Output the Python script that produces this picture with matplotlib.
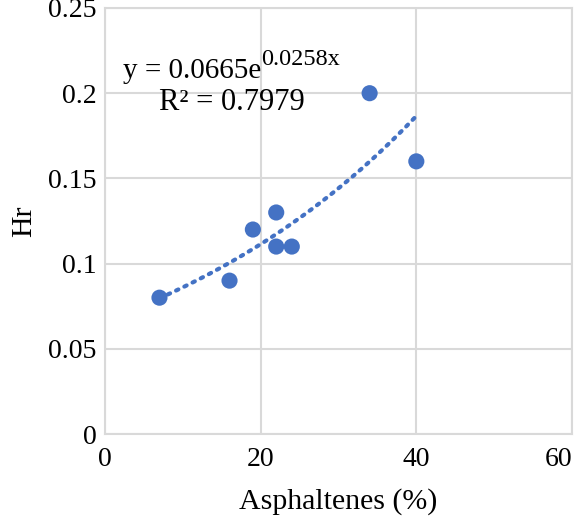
import numpy as np
import matplotlib
matplotlib.use("Agg")
import matplotlib.pyplot as plt

# data
asphaltenes = [7, 16, 19, 22, 22, 24, 34, 40]
hr = [0.08, 0.09, 0.12, 0.13, 0.11, 0.11, 0.20, 0.16]
fit_a = 0.0665
fit_b = 0.0258
xticks = [0, 20, 40, 60]
yticks = [0, 0.05, 0.1, 0.15, 0.2, 0.25]
ytick_labels = ["0", "0.05", "0.1", "0.15", "0.2", "0.25"]

plt.rcParams['font.family'] = ['Liberation Serif', 'DejaVu Serif']

blue = '#4472C4'
grid_col = '#d9d9d9'

fig = plt.figure(figsize=(5.81, 5.16), dpi=100)
ax = fig.add_axes([0.1807, 0.1589, 0.8038, 0.8256])

xs = np.linspace(min(asphaltenes), max(asphaltenes), 200)
ax.plot(xs, fit_a * np.exp(fit_b * xs), linestyle=(0, (0.6, 1.6)), color=blue,
        linewidth=3, dash_capstyle='round', zorder=2)
ax.scatter(asphaltenes, hr, s=135, color=blue, edgecolors='none', zorder=3)

ax.set_xlim(0, 60)
ax.set_ylim(0, 0.25)
ax.set_xticks(xticks)
ax.set_yticks(yticks)
ax.set_yticklabels(ytick_labels)
ax.tick_params(length=0, labelsize=20)
ax.tick_params(axis='x', pad=9)
ax.tick_params(axis='y', pad=6)
ax.get_xticklabels()[-1].set_horizontalalignment('right')
ax.grid(True, color=grid_col, linewidth=1.5)
ax.set_axisbelow(True)
for sp in ax.spines.values():
    sp.set_color(grid_col)
    sp.set_linewidth(1.5)

ax.set_xlabel("Asphaltenes (%)", fontsize=21.5, labelpad=12)
ax.set_ylabel("Hr", fontsize=21.5, labelpad=8)

# trendline equation, exponent drawn as its own smaller text
eq = ax.text(2.3, 0.2087, "y = 0.0665e", fontsize=21, va='baseline')
ax.annotate("0.0258x", xy=(1, 0), xycoords=eq, xytext=(0, 14),
            textcoords='offset points', fontsize=17.5, va='baseline')
ax.text(7.0, 0.19, "R² = 0.7979", fontsize=22, va='baseline')

fig.savefig("out.png", dpi=100)
